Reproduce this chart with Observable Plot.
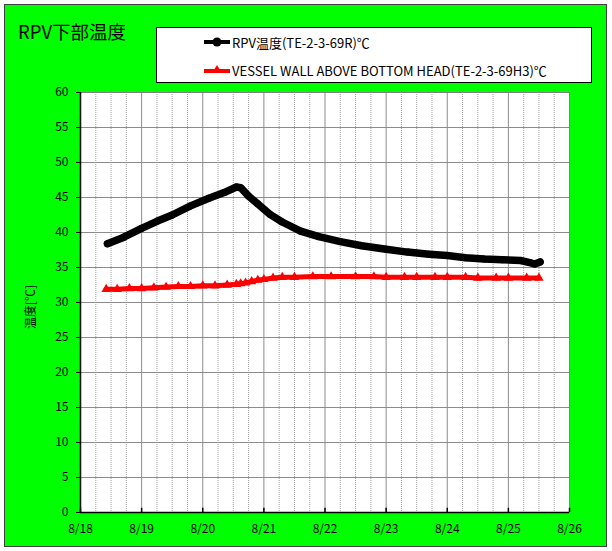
<!DOCTYPE html>
<html><head><meta charset="utf-8">
<script src="https://cdn.jsdelivr.net/npm/d3@7"></script>
<script src="https://cdn.jsdelivr.net/npm/@observablehq/plot@0.6"></script>
<style>
body{margin:0;background:#fff;font-family:"Noto Sans CJK JP","Noto Sans",sans-serif;}
#wrap{position:relative;width:612px;height:551px;overflow:hidden;}
#bg{position:absolute;left:4px;top:4px;width:601px;height:541px;background:#00ff00;border:1.5px solid #404040;}
#chart{position:absolute;left:0;top:0;}
#title{position:absolute;left:18px;top:18px;font-size:18.5px;color:#000;}
#legend{position:absolute;left:156px;top:27px;width:434px;height:54px;background:#fff;border:1px solid #000;font-size:13px;}
.le{position:absolute;left:46px;height:18px;display:flex;align-items:center;white-space:nowrap;}
.le svg{margin-right:1px;}
#ylab{position:absolute;left:29px;top:307px;font-size:12px;transform:translate(-50%,-50%) rotate(-90deg);white-space:nowrap;}
</style></head>
<body><div id="wrap"><div id="bg"></div><div id="chart"></div>
<div id="title">RPV下部温度</div>
<div id="legend">
<div class="le" style="top:5px"><svg width="28" height="12"><line x1="1" x2="27" y1="6" y2="6" stroke="#000" stroke-width="4"/><circle cx="14" cy="6" r="4.5" fill="#000"/></svg>RPV温度(TE-2-3-69R)℃</div>
<div class="le" style="top:33px"><svg width="28" height="12"><line x1="1" x2="27" y1="7" y2="7" stroke="#f00" stroke-width="4"/><path d="M14,1 L19,9 L9,9 Z" fill="#f00"/></svg>VESSEL WALL ABOVE BOTTOM HEAD(TE-2-3-69H3)℃</div>
</div>
<div id="ylab">温度[℃]</div>
</div>
<script>
// days elapsed since 8/18 00:00
const blackDays = [0.44,0.7,1.0,1.25,1.5,1.8,2.1,2.35,2.55,2.62,2.75,2.9,3.1,3.3,3.6,3.9,4.25,4.6,5.0,5.35,5.7,6.0,6.3,6.6,6.9,7.2,7.35,7.43,7.52];
const blackVals = [38.4,39.3,40.6,41.6,42.5,43.8,44.9,45.7,46.5,46.4,45.2,44.1,42.6,41.5,40.2,39.4,38.7,38.1,37.6,37.2,36.9,36.7,36.4,36.2,36.1,36.0,35.7,35.5,35.8];
const redDays = [0.42,0.6,0.8,1.0,1.2,1.4,1.6,1.8,2.0,2.2,2.4,2.55,2.62,2.7,2.8,2.9,3.0,3.15,3.3,3.5,3.8,4.1,4.5,4.8,5.0,5.3,5.5,5.8,6.0,6.3,6.5,6.8,7.0,7.3,7.5];
const redVals = [31.9,31.9,32.0,32.0,32.1,32.2,32.3,32.3,32.4,32.4,32.5,32.6,32.7,32.8,33.0,33.2,33.3,33.5,33.6,33.6,33.7,33.7,33.7,33.7,33.6,33.6,33.6,33.6,33.6,33.6,33.5,33.5,33.5,33.5,33.5];
const yTicks = [0,5,10,15,20,25,30,35,40,45,50,55,60];
const dayLabels = ["8/18","8/19","8/20","8/21","8/22","8/23","8/24","8/25","8/26"];

const start = Date.UTC(2011,7,18);
const toDate = d => new Date(start + d*864e5);
const black = blackDays.map((d,i)=>({t:toDate(d),v:blackVals[i]}));
const red = redDays.map((d,i)=>({t:toDate(d),v:redVals[i]}));
const days = dayLabels.map((s,i)=>toDate(i));
const minor = d3.range(0,32).map(i=>toDate(i/4)).filter((d,i)=>i%4!==0);
const fmt = new Map(days.map((d,i)=>[+d,dayLabels[i]]));

const chart = Plot.plot({
  width:612, height:551,
  marginLeft:80, marginRight:43, marginTop:92, marginBottom:39,
  style:{background:"transparent",fontFamily:"'Noto Sans CJK JP','Noto Sans',sans-serif",fontSize:"12px",color:"#000"},
  x:{type:"utc",domain:[toDate(0),toDate(8)]},
  y:{domain:[0,60]},
  marks:[
    Plot.frame({fill:"#fff",stroke:"none"}),
    Plot.ruleX(minor,{stroke:"#a0a0a0",strokeWidth:1,strokeDasharray:"1,1"}),
    Plot.ruleX(days,{stroke:"#8c8c8c",strokeWidth:1}),
    Plot.ruleY(yTicks,{stroke:"#8c8c8c",strokeWidth:1}),
    Plot.frame({stroke:"#808080"}),
    Plot.axisY({ticks:yTicks,tickSize:4,tickPadding:8,label:null,stroke:"#000"}),
    Plot.axisX({ticks:days,tickSize:0,tickPadding:12,label:null,tickFormat:d=>fmt.get(+d)}),
    Plot.ruleX(days,{y1:0,y2:0.6,stroke:"#000",strokeWidth:1.5}),
    Plot.ruleY([0],{stroke:"#000",strokeWidth:1.5}),
    Plot.ruleX([toDate(0)],{stroke:"#000",strokeWidth:1.5}),
    Plot.line(red,{x:"t",y:"v",stroke:"#f00",strokeWidth:5}),
    Plot.dot(red,{x:"t",y:"v",symbol:"triangle",r:3.5,fill:"#f00"}),
    Plot.line(black,{x:"t",y:"v",stroke:"#000",strokeWidth:7.5,strokeLinejoin:"round",strokeLinecap:"round"}),
    Plot.dot(black,{x:"t",y:"v",r:3.5,fill:"#000"})
  ]
});
document.getElementById("chart").appendChild(chart);
</script></body></html>
